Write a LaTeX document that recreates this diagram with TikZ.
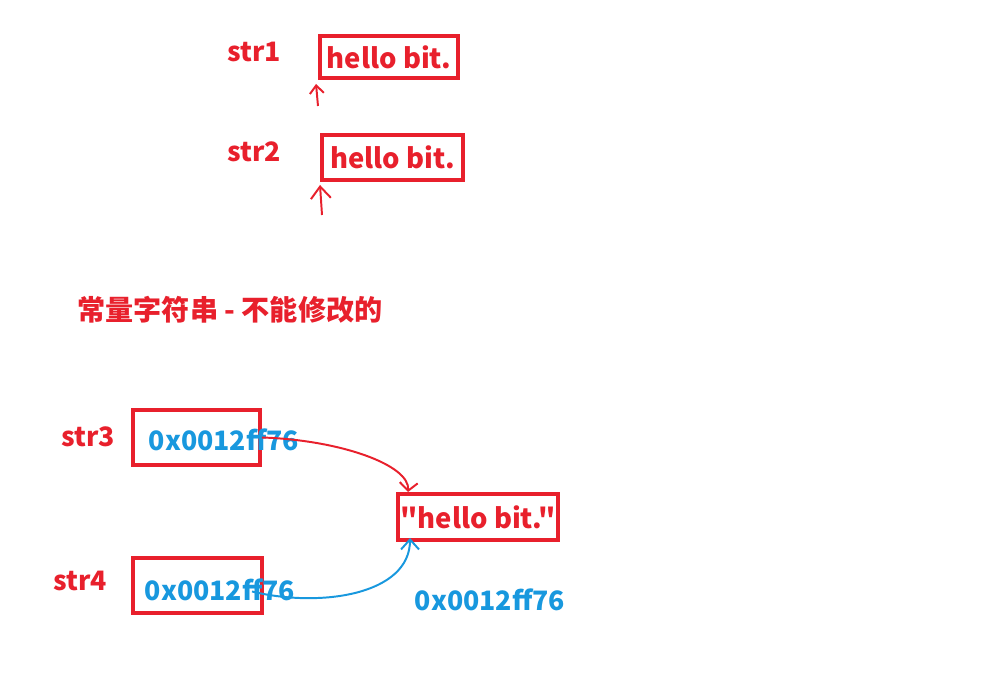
\documentclass[tikz,border=0pt]{standalone}
\usepackage{fontspec}
\setmainfont{Noto Sans CJK SC}[Ligatures=TeXOff]
\usetikzlibrary{positioning,arrows.meta}
\definecolor{penred}{RGB}{232,32,44}
\definecolor{penblue}{RGB}{24,152,222}

\begin{document}
\begin{tikzpicture}[
  x=0.025cm, y=-0.025cm,
  varname/.style={text=penred, font=\fontsize{19}{23}\selectfont\bfseries},
  strbox/.style={draw=penred, line width=2.8pt, inner sep=0pt, text=penred, font=\fontsize{19.5}{24}\selectfont\bfseries},
  ptrbox/.style={draw=penred, line width=2.8pt, inner sep=0pt},
  addr/.style={text=penblue, font=\fontsize{19}{23}\selectfont\bfseries},
  pointer/.style={-{Straight Barb[length=2mm,width=3.5mm]}, line width=1.4pt}
]
  \useasboundingbox (0,0) rectangle (1000,688);

  % two arrays on the stack
  \node[strbox, minimum width=3.45cm, minimum height=1.05cm] (box1) at (389,57) {hello bit.};
  \node[varname] (str1) at (254,52) {str1};
  \node[strbox, minimum width=3.525cm, minimum height=1.125cm] (box2) at (392.5,157.5) {hello bit.};
  \node[varname] (str2) at (254,152) {str2};
  \coordinate (tail1) at (318,106);
  \coordinate (tail2) at (322,215);
  \draw[pointer, penred] (tail1) -- ([shift={(-2,4)}]box1.south west);
  \draw[pointer, penred, -{Straight Barb[length=3mm,width=5mm]}] (tail2) -- ([shift={(0,3)}]box2.south west);

  \node[text=penred, font=\fontsize{20}{24}\selectfont\bfseries] (note) at (230,310) {常量字符串 - 不能修改的};

  % two pointers to one constant string
  \node[ptrbox, minimum width=3.175cm, minimum height=1.375cm] (box3) at (196.5,437.5) {};
  \node[varname] (str3) at (88,437) {str3};
  \node[addr] (addr3) at (224,440) {0x0012ff76};
  \node[ptrbox, minimum width=3.225cm, minimum height=1.375cm] (box4) at (197.5,585.5) {};
  \node[varname] (str4) at (80,581) {str4};
  \node[addr] (addr4) at (220,590) {0x0012ff76};
  \node[strbox, minimum width=4cm, minimum height=1.15cm] (hello) at (478,517) {"hello bit."};
  \node[addr] (addr5) at (490,600) {0x0012ff76};

  \draw[pointer, penred, -{Straight Barb[length=2mm,width=4.5mm]}] (box3.east) .. controls (340,440) and (410,465) .. ([xshift=0.3cm]hello.north west);
  \draw[pointer, penblue, -{Straight Barb[length=2.5mm,width=4.5mm]}] ([shift={(-12,6)}]box4.east) .. controls (320,608) and (410,595) .. ([shift={(0.35cm,-4)}]hello.south west);
\end{tikzpicture}
\end{document}
